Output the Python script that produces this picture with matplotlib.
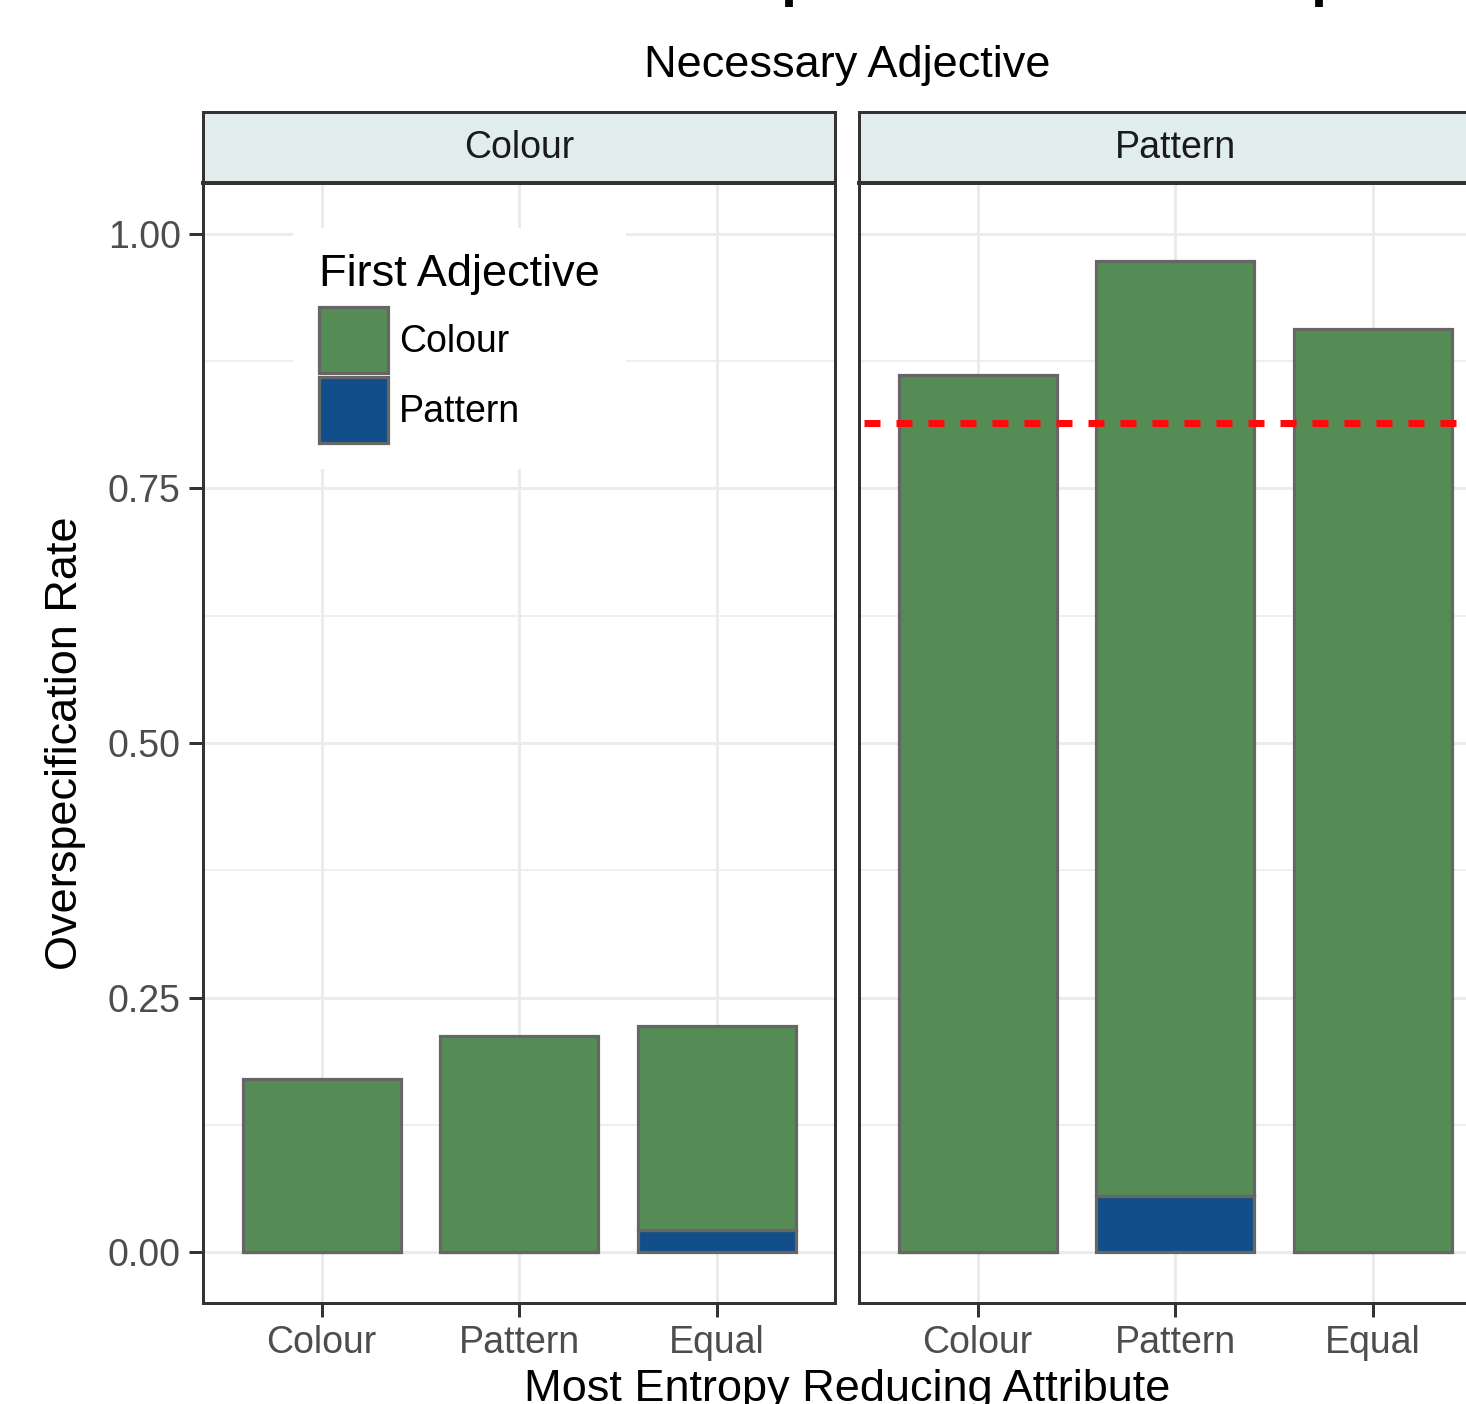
import matplotlib
matplotlib.use("Agg")
import matplotlib.pyplot as plt
from matplotlib.patches import Patch
import numpy as np

# ---- data ----
categories = ["Colour", "Pattern", "Equal"]
panels = ["Colour", "Pattern"]
# stacked values: Pattern (bottom, blue) and Colour (top, green) as first adjective
pattern_first = {"Colour": [0.0, 0.0, 0.022], "Pattern": [0.0, 0.055, 0.0]}
total_rate = {"Colour": [0.170, 0.212, 0.222], "Pattern": [0.861, 0.973, 0.907]}
ref_line = {"Pattern": 0.814}
yticks = [0.0, 0.25, 0.50, 0.75, 1.00]
ytick_labels = ["0.00", "0.25", "0.50", "0.75", "1.00"]
legend_labels = ["Colour", "Pattern"]

GREEN = "#558B55"
BLUE = "#124E8A"
EDGE = "#666666"
DARK = "#333333"
GRID = "#EBEBEB"
STRIP = "#E0EDEC"

FONT = ["Liberation Sans", "DejaVu Sans"]
plt.rcParams["font.family"] = FONT
plt.rcParams["lines.scale_dashes"] = False

W, H = 1466, 1404
fig = plt.figure(figsize=(W / 100, H / 100), dpi=100)
PX = 72 / 100  # points per pixel

def fx(px):
    return px / W

def fy(py):
    return 1 - py / H

panel_left = [203, 859]
panel_w = 632
top_px, bot_px = 183, 1303
strip_top = 112

tick_fs = 27
title_fs = 32.5

for i, pname in enumerate(panels):
    ax = fig.add_axes([fx(panel_left[i]), fy(bot_px), panel_w / W, (bot_px - top_px) / H])
    x = np.arange(len(categories))
    bottom = np.array(pattern_first[pname])
    top = np.array(total_rate[pname]) - bottom
    ax.bar(x, bottom, width=0.8, color=BLUE, edgecolor=EDGE, linewidth=3.2 * PX, zorder=3)
    ax.bar(x, top, bottom=bottom, width=0.8, color=GREEN, edgecolor=EDGE, linewidth=3.2 * PX, zorder=3)
    ax.set_xlim(-0.6, len(categories) - 0.4)
    ax.set_ylim(-0.05, 1.05)
    ax.set_xticks(x)
    ax.set_xticklabels(categories)
    ax.set_yticks(yticks)
    ax.set_yticks([0.125, 0.375, 0.625, 0.875], minor=True)
    if i == 0:
        ax.set_yticklabels(ytick_labels)
    else:
        ax.tick_params(axis="y", which="both", left=False, labelleft=False)
    ax.tick_params(axis="y", which="minor", left=False)
    ax.tick_params(axis="both", which="major", length=10, width=3 * PX, color=DARK,
                   labelsize=tick_fs, labelcolor="#4D4D4D", pad=6)
    ax.grid(True, which="major", color=GRID, linewidth=3 * PX, zorder=0)
    ax.grid(True, which="minor", axis="y", color=GRID, linewidth=1.5 * PX, zorder=0)
    ax.set_axisbelow(True)
    for s in ax.spines.values():
        s.set_color(DARK)
        s.set_linewidth(3 * PX)
    if pname in ref_line:
        ax.axhline(ref_line[pname], color="#FF0A0A", linewidth=7 * PX,
                   linestyle=(27 * PX, (16 * PX, 16 * PX)), zorder=4)
    if i == 0:
        ax.set_ylabel("Overspecification Rate", fontsize=title_fs, labelpad=16)
        handles = [Patch(facecolor=GREEN, edgecolor=EDGE, linewidth=3.2 * PX),
                   Patch(facecolor=BLUE, edgecolor=EDGE, linewidth=3.2 * PX)]
        leg = ax.legend(handles, legend_labels, title="First Adjective",
                        loc="upper left", bbox_to_anchor=((293 - 203) / panel_w, (bot_px - 228) / (bot_px - top_px)),
                        borderaxespad=0, fontsize=tick_fs, title_fontsize=title_fs,
                        frameon=True, fancybox=False, framealpha=1, edgecolor="none",
                        facecolor="white", handlelength=1.82, handleheight=2.33,
                        labelspacing=0.1, handletextpad=0.3, borderpad=0.7,
                        alignment="left")
        leg._legend_box.sep = 12 * PX
        leg.set_zorder(5)
    # strip
    sax = fig.add_axes([fx(panel_left[i]), fy(top_px), panel_w / W, (top_px - strip_top) / H])
    sax.set_facecolor(STRIP)
    sax.set_xticks([])
    sax.set_yticks([])
    for s in sax.spines.values():
        s.set_color(DARK)
        s.set_linewidth(3 * PX)
    sax.spines["bottom"].set_linewidth(4 * PX)
    sax.text(0.5, 0.5, pname, transform=sax.transAxes, ha="center", va="center",
             fontsize=tick_fs, color="#1A1A1A")

# facet column title and x label
center_px = (203 + 859 + panel_w) / 2
fig.text(fx(center_px), fy(65), "Necessary Adjective", ha="center", va="center",
         fontsize=title_fs, color="black")
fig.text(fx(center_px), fy(1390), "Most Entropy Reducing Attribute", ha="center", va="center",
         fontsize=title_fs, color="black")

# top title (clipped by the figure edge in the reference; only descenders visible)
title = "Overspecification of Complex Items"
renderer = fig.canvas.get_renderer()
probe = fig.text(0, 0, "Overs", fontsize=40, fontweight="bold")
w1 = probe.get_window_extent(renderer).width
probe.set_text("Overspecification of Com")
w2 = probe.get_window_extent(renderer).width
probe.remove()
fs = 40 * 529 / (w2 - w1)
start_px = 781 - w1 * fs / 40
em_px = fs / PX
fig.text(fx(start_px), 1 + (0.21 * em_px - 7) / H, title, ha="left", va="baseline",
         fontsize=fs, fontweight="bold", color="black")

fig.savefig("out.png", dpi=100)
